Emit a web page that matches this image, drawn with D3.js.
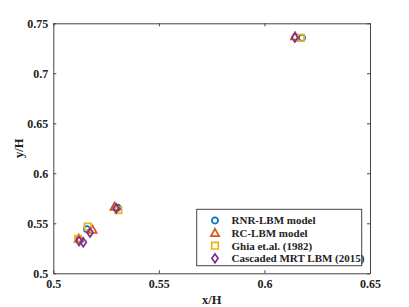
<!DOCTYPE html>
<html>
<head>
<meta charset="utf-8">
<script src="https://cdn.jsdelivr.net/npm/d3@7"></script>
<style>
  body { margin: 0; background: #fff; }
</style>
</head>
<body>
<div class="chart"></div>
<script>
// series values
const rnrX = [0.6178, 0.5305, 0.5159, 0.5126]
const rnrY = [0.7355, 0.5655, 0.5440, 0.5333]
const rcX = [0.6145, 0.5290, 0.5186, 0.5120]
const rcY = [0.7368, 0.5665, 0.5433, 0.5346]
const ghiaX = [0.6172, 0.5308, 0.5163, 0.5118]
const ghiaY = [0.7355, 0.5632, 0.5467, 0.5343]
const cascX = [0.6144, 0.5298, 0.5174, 0.5122, 0.5142]
const cascY = [0.7358, 0.5650, 0.5407, 0.5323, 0.5310]

const seriesNames = ['RNR-LBM model', 'RC-LBM model', 'Ghia et.al. (1982)', 'Cascaded MRT LBM (2015)']
const xTicks = [0.5, 0.55, 0.6, 0.65]
const yTicks = [0.5, 0.55, 0.6, 0.65, 0.7, 0.75]

const width = 409
const height = 307
const margin = {left: 53.3, right: 39, top: 23.3, bottom: 33.7}

const colors = ['#0072BD', '#D95319', '#EDB120', '#7E2F8E']
const shapes = ['circle', 'triangle', 'square', 'diamond']
const serif = '"Times New Roman", "Liberation Serif", "DejaVu Serif", serif'

let svg = d3.select('.chart')
	.append('svg')
	.attr('width', width)
	.attr('height', height)

let x = d3.scaleLinear()
	.domain([0.5, 0.65])
	.range([margin.left, width - margin.right])

let y = d3.scaleLinear()
	.domain([0.5, 0.75])
	.range([height - margin.bottom, margin.top])

const axisColor = '#444'
const fmt = (d) => String(+d.toFixed(2))

// bottom + top axes, left + right axes
svg.append('g')
	.attr('transform', 'translate(0,' + y(0.5) + ')')
	.call(d3.axisBottom(x).tickValues(xTicks).tickSizeInner(-3).tickSizeOuter(0).tickPadding(6).tickFormat(fmt))
svg.append('g')
	.attr('transform', 'translate(0,' + y(0.75) + ')')
	.call(d3.axisTop(x).tickValues(xTicks).tickSizeInner(-3).tickSizeOuter(0).tickFormat(''))
svg.append('g')
	.attr('transform', 'translate(' + x(0.5) + ',0)')
	.call(d3.axisLeft(y).tickValues(yTicks).tickSizeInner(-3).tickSizeOuter(0).tickPadding(5).tickFormat(fmt))
svg.append('g')
	.attr('transform', 'translate(' + x(0.65) + ',0)')
	.call(d3.axisRight(y).tickValues(yTicks).tickSizeInner(-3).tickSizeOuter(0).tickFormat(''))

svg.selectAll('.domain, .tick line')
	.attr('stroke', axisColor)
	.attr('stroke-width', 1)
svg.selectAll('.tick text')
	.attr('fill', '#222')
	.style('font-family', serif)
	.style('font-weight', 'bold')
	.style('font-size', '12px')

svg.append('text')
	.attr('x', (x(0.5) + x(0.65)) / 2)
	.attr('y', 304)
	.attr('text-anchor', 'middle')
	.attr('fill', '#222')
	.style('font-family', serif)
	.style('font-weight', 'bold')
	.style('font-size', '12.5px')
	.text('x/H')

svg.append('text')
	.attr('transform', 'translate(23,' + ((y(0.5) + y(0.75)) / 2) + ') rotate(-90)')
	.attr('text-anchor', 'middle')
	.attr('fill', '#222')
	.style('font-family', serif)
	.style('font-weight', 'bold')
	.style('font-size', '12.5px')
	.text('y/H')

function markerPath(shape) {
	if (shape === 'circle') {
		return d3.symbol().type(d3.symbolCircle).size(30)()
	}
	if (shape === 'triangle') {
		let r = 4.3
		return 'M0,' + (-r) + 'L' + (r * 0.95) + ',' + (r * 0.7) + 'L' + (-r * 0.95) + ',' + (r * 0.7) + 'Z'
	}
	if (shape === 'square') {
		let r = 3.3
		return 'M' + (-r) + ',' + (-r) + 'H' + r + 'V' + r + 'H' + (-r) + 'Z'
	}
	let rx = 3.1, ry = 4.4
	return 'M0,' + (-ry) + 'L' + rx + ',0L0,' + ry + 'L' + (-rx) + ',0Z'
}

const series = [
	{xs: rnrX, ys: rnrY},
	{xs: rcX, ys: rcY},
	{xs: ghiaX, ys: ghiaY},
	{xs: cascX, ys: cascY}
]

series.forEach((s, i) => {
	svg.append('g')
		.selectAll('path')
		.data(s.xs.map((v, j) => [v, s.ys[j]]))
		.enter().append('path')
		.attr('transform', (d) => 'translate(' + x(d[0]) + ',' + y(d[1]) + ')')
		.attr('d', markerPath(shapes[i]))
		.attr('fill', 'none')
		.attr('stroke', colors[i])
		.attr('stroke-width', 1.7)
})

// legend
let legend = svg.append('g')
legend.append('rect')
	.attr('x', 196.7)
	.attr('y', 209.3)
	.attr('width', 165)
	.attr('height', 56.4)
	.attr('fill', '#fff')
	.attr('stroke', axisColor)
	.attr('stroke-width', 1)

let item = legend.selectAll('.legend-item')
	.data(seriesNames)
	.enter().append('g')
	.attr('class', 'legend-item')
	.attr('transform', (d, i) => 'translate(215,' + (220.5 + i * 12.6) + ')')

item.append('path')
	.attr('d', (d, i) => markerPath(shapes[i]))
	.attr('fill', 'none')
	.attr('stroke', (d, i) => colors[i])
	.attr('stroke-width', 1.7)

item.append('text')
	.attr('x', 16.5)
	.attr('dy', '0.35em')
	.attr('fill', '#222')
	.style('font-family', serif)
	.style('font-weight', 'bold')
	.style('font-size', '11px')
	.text((d) => d)
</script>
</body>
</html>
